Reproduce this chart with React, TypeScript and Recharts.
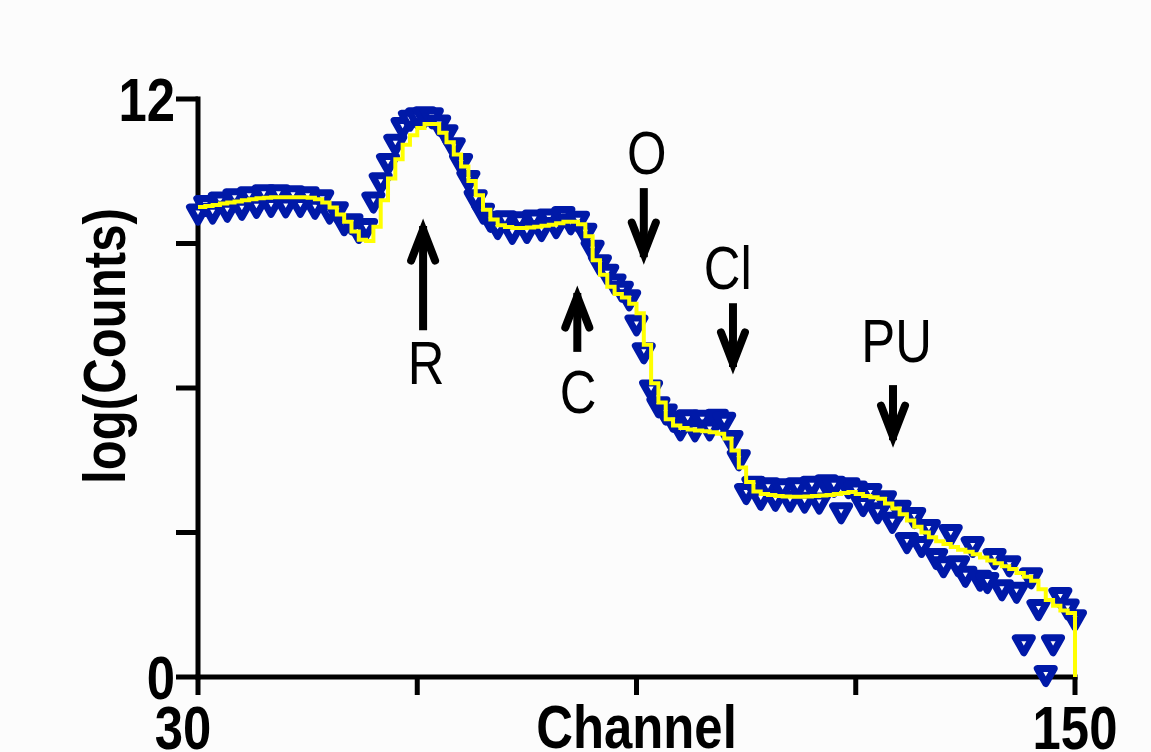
import React from 'react';
import { ComposedChart, XAxis, YAxis, Scatter, ReferenceLine, ReferenceDot } from 'recharts';

const CHANNEL_START = 30;

// log(Counts) per channel (30..150), blue markers
const COUNTS = [
  9.60, 9.78, 9.62, 9.85, 9.66, 9.92, 9.70, 9.96, 9.74, 10.00,
  9.76, 10.00, 9.75, 9.98, 9.76, 9.96, 9.72, 9.90, 9.62, 9.65,
  9.38, 9.40, 9.22, 9.30, 9.85, 10.25, 10.65, 11.05, 11.40, 11.55,
  11.60, 11.62, 11.60, 11.45, 11.25, 10.98, 10.65, 10.30, 9.90, 9.62,
  9.45, 9.30, 9.46, 9.20, 9.44, 9.22, 9.48, 9.26, 9.50, 9.32,
  9.55, 9.40, 9.45, 9.20, 8.85, 8.55, 8.35, 8.15, 8.00, 7.82,
  7.30, 6.72, 5.95, 5.60, 5.45, 5.30, 5.12, 5.33, 5.10, 5.32,
  5.12, 5.34, 5.28, 4.90, 4.50, 3.80, 3.95, 3.68, 3.92, 3.66,
  3.90, 3.64, 3.92, 3.62, 3.95, 3.60, 3.98, 3.95, 3.40, 3.92,
  3.85, 3.55, 3.80, 3.40, 3.65, 3.20, 3.45, 2.78, 3.30, 2.70,
  3.05, 2.45, 2.28, 2.95, 2.30, 2.08, 2.70, 2.00, 1.95, 2.45,
  1.80, 2.30, 1.75, 0.66, 2.05, 1.39, 0.02, 0.66, 1.64, 1.40,
  1.18,
];

// fitted curve per channel (30..150), yellow line
const FIT = [
  9.76, 9.78, 9.80, 9.83, 9.85, 9.87, 9.90, 9.92, 9.94, 9.95,
  9.96, 9.96, 9.96, 9.96, 9.96, 9.95, 9.92, 9.85, 9.75, 9.60,
  9.45, 9.25, 9.08, 9.05, 9.35, 9.90, 10.35, 10.75, 11.05, 11.25,
  11.40, 11.48, 11.48, 11.30, 11.10, 10.85, 10.60, 10.30, 10.00, 9.70,
  9.50, 9.38, 9.34, 9.32, 9.32, 9.33, 9.35, 9.37, 9.39, 9.42,
  9.45, 9.45, 9.40, 9.15, 8.65, 8.35, 8.10, 7.95, 7.88, 7.75,
  7.55, 6.90, 6.10, 5.70, 5.35, 5.22, 5.17, 5.14, 5.12, 5.10,
  5.08, 5.05, 4.95, 4.70, 4.35, 4.05, 3.85, 3.80, 3.78, 3.76,
  3.75, 3.74, 3.74, 3.75, 3.76, 3.77, 3.78, 3.80, 3.82, 3.84,
  3.80, 3.76, 3.73, 3.70, 3.60, 3.50, 3.38, 3.25, 3.12, 3.00,
  2.90, 2.82, 2.76, 2.70, 2.64, 2.60, 2.55, 2.48, 2.42, 2.36,
  2.30, 2.24, 2.16, 2.08, 2.00, 1.82, 1.60, 1.48, 1.38, 1.33,
  0,
];

const X_TICKS = [30, 60, 90, 120, 150];
const X_TICK_LABELS: Record<number, string> = { 30: '30', 150: '150' };
const Y_TICKS = [0, 3, 6, 9, 12];
const Y_TICK_LABELS: Record<number, string> = { 0: '0', 12: '12' };

const ANNOTATIONS = [
  { label: 'R', channel: 60.8, from: 7.2, to: 9.53, labelChannel: 61.2, labelValue: 6.54 },
  { label: 'C', channel: 81.9, from: 6.75, to: 8.14, labelChannel: 82.0, labelValue: 5.95 },
  { label: 'O', channel: 91.0, from: 10.15, to: 8.55, labelChannel: 91.4, labelValue: 10.9 },
  { label: 'Cl', channel: 103.2, from: 7.76, to: 6.27, labelChannel: 102.5, labelValue: 8.52 },
  { label: 'PU', channel: 125.1, from: 6.06, to: 4.75, labelChannel: 125.6, labelValue: 7.0 },
];

const markerRows = COUNTS.map((c, i) => ({ ch: CHANNEL_START + i, v: c }));

// step-after table for the fitted curve: each value held until the next channel
const fitRows: { ch: number; v: number }[] = [];
FIT.forEach((f, i) => {
  const ch = CHANNEL_START + i;
  fitRows.push({ ch, v: f });
  if (i < FIT.length - 1) fitRows.push({ ch: ch + 1, v: f });
});

const FONT = "'Liberation Sans', Arial, sans-serif";
const NARROW = 0.82;
const BLUE = '#0019a8';
const YELLOW = '#ffff00';
const BG = '#fcfcfc';

const TriangleDown = (props: any) => {
  const { cx, cy } = props;
  if (cx == null || cy == null) return <g />;
  return (
    <path
      d={`M${cx - 8.5},${cy - 7.5}L${cx + 8.5},${cy - 7.5}L${cx},${cy + 7.5}Z`}
      fill={BG}
      stroke={BLUE}
      strokeWidth={7}
      strokeLinejoin="round"
    />
  );
};

const NoPoint = () => <g />;

const XTick = (props: any) => {
  const { x, y, payload } = props;
  const v = payload.value;
  const text = X_TICK_LABELS[v] ?? '';
  if (!text) return null;
  const shift = v === 30 ? -15 : 0;
  return (
    <text
      transform={`translate(${x + shift},${y}) scale(${NARROW},1)`}
      dy="0.71em"
      textAnchor="middle"
      fontSize={62}
      fontWeight="bold"
      fontFamily={FONT}
      fill="#000"
    >
      {text}
    </text>
  );
};

const YTick = (props: any) => {
  const { x, y, payload } = props;
  const text = Y_TICK_LABELS[payload.value] ?? '';
  if (!text) return null;
  return (
    <text
      transform={`translate(${x},${y}) scale(${NARROW},1)`}
      dy="0.355em"
      textAnchor="end"
      fontSize={62}
      fontWeight="bold"
      fontFamily={FONT}
      fill="#000"
    >
      {text}
    </text>
  );
};

const renderXLabel = (props: any) => {
  const vb = props.viewBox || { x: 198, y: 677, width: 877, height: 75 };
  const cx = vb.x + vb.width / 2;
  const by = vb.y + vb.height - 4;
  return (
    <text
      transform={`translate(${cx},${by}) scale(${NARROW},1)`}
      textAnchor="middle"
      fontSize={62}
      fontWeight="bold"
      fontFamily={FONT}
      fill="#000"
    >
      Channel
    </text>
  );
};

const renderYLabel = (props: any) => {
  const vb = props.viewBox || { x: 0, y: 99, width: 198, height: 578 };
  const cx = vb.x + 125;
  const cy = vb.y + vb.height / 2 - 42;
  return (
    <text
      transform={`translate(${cx},${cy}) rotate(-90) scale(${NARROW},1)`}
      textAnchor="middle"
      fontSize={60}
      fontWeight="bold"
      fontFamily={FONT}
      fill="#000"
    >
      log(Counts)
    </text>
  );
};

const arrowShape = (props: any) => {
  const { x1, y1, x2, y2 } = props;
  if ([x1, y1, x2, y2].some((v) => v == null || isNaN(v))) return <g />;
  const d = y2 > y1 ? 1 : -1;
  const vy = y2 - d * 11.6;
  return (
    <g>
      <line x1={x1} y1={y1} x2={x2} y2={y2 - d * 8} stroke="#000" strokeWidth={8} />
      <polyline
        points={`${x2 - 12},${vy - d * 31} ${x2},${vy} ${x2 + 12},${vy - d * 31}`}
        fill="none"
        stroke="#000"
        strokeWidth={8}
        strokeLinecap="round"
        strokeLinejoin="miter"
      />
    </g>
  );
};

const makeLabelShape = (label: string) => (props: any) => {
  const { cx, cy } = props;
  return (
    <text
      transform={`translate(${cx},${cy}) scale(${NARROW},1)`}
      dy="0.36em"
      textAnchor="middle"
      fontSize={62}
      fontFamily={FONT}
      fill="#000"
    >
      {label}
    </text>
  );
};

export default function App() {
  const fitProps: any = { zIndex: 700 };
  return (
    <div style={{ position: 'absolute', left: 0, top: 0, width: 1151, height: 752, background: BG }}>
      <ComposedChart width={1151} height={752} margin={{ top: 99, right: 76, bottom: 0, left: 0 }}>
        <XAxis
          dataKey="ch"
          type="number"
          domain={[30, 150]}
          ticks={X_TICKS}
          interval={0}
          height={75}
          tickSize={18}
          tickMargin={10}
          axisLine={{ stroke: '#000', strokeWidth: 5, strokeLinecap: 'square' }}
          tickLine={{ stroke: '#000', strokeWidth: 5 }}
          tick={<XTick />}
          label={{ content: renderXLabel }}
        />
        <YAxis
          dataKey="v"
          type="number"
          domain={[0, 12]}
          ticks={Y_TICKS}
          interval={0}
          width={198}
          tickSize={22}
          tickMargin={1}
          axisLine={{ stroke: '#000', strokeWidth: 5, strokeLinecap: 'square' }}
          tickLine={{ stroke: '#000', strokeWidth: 5 }}
          tick={<YTick />}
          label={{ content: renderYLabel }}
        />
        <Scatter data={markerRows} dataKey="v" shape={TriangleDown} isAnimationActive={false} />
        <Scatter
          data={fitRows}
          dataKey="v"
          shape={NoPoint}
          line={{ stroke: YELLOW, strokeWidth: 4 }}
          lineType="joint"
          isAnimationActive={false}
          {...fitProps}
        />
        {ANNOTATIONS.map((a) => (
          <ReferenceLine
            key={`arrow-${a.label}`}
            segment={[
              { x: a.channel, y: a.from },
              { x: a.channel, y: a.to },
            ]}
            shape={arrowShape}
          />
        ))}
        {ANNOTATIONS.map((a) => (
          <ReferenceDot
            key={`label-${a.label}`}
            x={a.labelChannel}
            y={a.labelValue}
            r={0}
            shape={makeLabelShape(a.label)}
          />
        ))}
      </ComposedChart>
    </div>
  );
}
